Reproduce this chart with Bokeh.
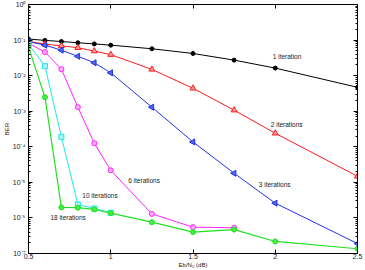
from bokeh.plotting import figure
from bokeh.models import FixedTicker, LinearAxis, LogAxis, Label
from bokeh.embed import file_html
from bokeh.resources import INLINE

# Eb/N0 grid (dB)
ebno = [0.5, 0.6, 0.7, 0.8, 0.9, 1.0, 1.25, 1.5, 1.75, 2.0, 2.5]
ebno_6 = [0.5, 0.6, 0.7, 0.8, 0.9, 1.0, 1.25, 1.5, 1.75]
ebno_10 = [0.5, 0.6, 0.7, 0.8, 0.9, 1.0]

# BER per number of decoder iterations
ber_1 = [0.107, 0.098, 0.091, 0.084, 0.078, 0.072, 0.057, 0.042, 0.0273, 0.0163, 0.0047]
ber_2 = [0.092, 0.077, 0.069, 0.061, 0.049, 0.039, 0.015, 4.4e-3, 1.07e-3, 2.4e-4, 1.48e-5]
ber_3 = [0.090, 0.072, 0.052, 0.035, 0.023, 0.012, 1.3e-3, 1.37e-4, 1.8e-5, 2.6e-6, 1.9e-7]
ber_6 = [0.082, 0.046, 0.0152, 1.3e-3, 1.26e-4, 2.18e-5, 1.3e-6, 5.5e-7, 5.3e-7]
ber_10 = [0.077, 0.0185, 1.9e-4, 2.4e-6, 1.85e-6, 1.4e-6]
ber_18 = [0.0635, 2.48e-3, 1.98e-6, 1.94e-6, 1.73e-6, 1.36e-6, 7.6e-7, 4.0e-7, 4.7e-7, 2.18e-7, 1.36e-7]

# axis ticks
x_ticks = [0.5, 1.0, 1.5, 2.0, 2.5]
x_tick_labels = ["0.5", "1", "1.5", "2", "2.5"]
y_ticks = [1e-7, 1e-6, 1e-5, 1e-4, 1e-3, 1e-2, 1e-1, 1e0]
y_tick_labels = ["10⁻⁷", "10⁻⁶", "10⁻⁵", "10⁻⁴", "10⁻³", "10⁻²", "10⁻¹", "10⁰"]

# curve annotations: (text, x, y)
curve_labels = [
    ("1 iteration", 1.985, 0.0354),
    ("2 iterations", 1.973, 4.3e-4),
    ("3 iterations", 1.90, 8.8e-6),
    ("6 iterations", 1.106, 1.14e-5),
    ("10 iterations", 0.827, 4.3e-6),
    ("18 iterations", 0.633, 1.03e-6),
]

FONT = "Liberation Sans"

p = figure(width=365, height=270, y_axis_type="log",
           x_range=(0.5, 2.5), y_range=(1e-7, 1.0),
           output_backend="svg", toolbar_location=None,
           min_border_left=3, min_border_right=8,
           min_border_top=4, min_border_bottom=2)
p.background_fill_color = "white"
p.border_fill_color = "white"
p.outline_line_color = "black"
p.outline_line_width = 1
p.xgrid.visible = False
p.ygrid.visible = False

minor = [m * t for t in y_ticks[:-1] for m in range(2, 10)]
xt = FixedTicker(ticks=x_ticks)
yt = FixedTicker(ticks=y_ticks, minor_ticks=minor)

def style(ax):
    ax.axis_line_color = "black"
    ax.major_tick_in = 4
    ax.major_tick_out = 0
    ax.major_tick_line_color = "black"
    ax.minor_tick_in = 2
    ax.minor_tick_out = 0
    ax.minor_tick_line_color = "black"
    ax.major_label_text_font = FONT
    ax.major_label_text_color = "#222222"
    ax.axis_label_text_font = FONT
    ax.axis_label_text_font_style = "normal"
    ax.axis_label_text_color = "#222222"

xa = p.xaxis[0]
xa.ticker = xt
xa.major_label_overrides = {v: s for v, s in zip(x_ticks, x_tick_labels)}
style(xa)
xa.minor_tick_in = 0
xa.major_label_text_font_size = "7px"
xa.major_label_standoff = 0
xa.axis_label = "Eb/N₀ (dB)"
xa.axis_label_text_font_size = "6px"
xa.axis_label_standoff = 0

ya = p.yaxis[0]
ya.ticker = yt
ya.major_label_overrides = {v: s for v, s in zip(y_ticks, y_tick_labels)}
style(ya)
ya.major_label_text_font_size = "7px"
ya.major_label_standoff = 3
ya.axis_label = "BER"
ya.axis_label_text_font_size = "6px"
ya.axis_label_standoff = 0

# box ticks on the opposite sides, without labels
top = LinearAxis(ticker=xt)
style(top)
top.minor_tick_in = 0
top.major_label_text_alpha = 0
top.major_label_text_font_size = "1px"
top.major_label_standoff = 0
p.add_layout(top, "above")

right = LogAxis(ticker=yt)
style(right)
right.major_label_text_alpha = 0
right.major_label_text_font_size = "1px"
right.major_label_standoff = 0
p.add_layout(right, "right")

# BER curves
p.line(ebno, ber_1, color="black", line_width=1)
p.scatter(ebno, ber_1, marker="circle", size=4, color="black")

p.line(ebno, ber_2, color="#ff1a1a", line_width=1)
p.scatter(ebno, ber_2, marker="triangle", size=6, line_color="#ff1a1a",
          fill_color="#ff9a9a")

p.line(ebno, ber_3, color="#2233dd", line_width=1)
p.scatter(ebno, ber_3, marker="triangle", size=6, angle=1.5708,
          line_color="#2233dd", fill_color="#5566ee")

p.line(ebno_6, ber_6, color="#ff22ff", line_width=1)
p.scatter(ebno_6, ber_6, marker="circle", size=5, line_color="#ff22ff",
          fill_color="#ffaaff")

p.line(ebno_10, ber_10, color="#22e6e6", line_width=1)
p.scatter(ebno_10, ber_10, marker="square", size=5, line_color="#22e6e6",
          fill_color="#aaf4f4")

p.line(ebno, ber_18, color="#22e022", line_width=1.2)
p.scatter(ebno, ber_18, marker="circle", size=5, line_color="#22e022",
          fill_color="#44ee44")

for text, x, y in curve_labels:
    p.add_layout(Label(x=x, y=y, text=text, text_font=FONT,
                       text_font_size="6.5px", text_color="#222222",
                       text_baseline="middle", text_align="left"))

open("out.html", "w").write(file_html(p, INLINE))
